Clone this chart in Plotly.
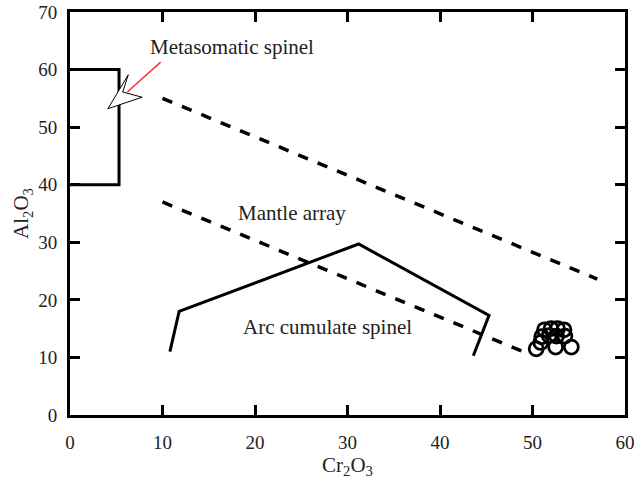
import plotly.graph_objects as go

# Metasomatic spinel field (box)
meta_box_x = [0, 5.3, 5.3, 0]
meta_box_y = [60, 60, 40, 40]

# Mantle array (two dashed bounding lines)
mantle_upper_x = [10, 57]
mantle_upper_y = [55, 23.6]
mantle_lower_x = [10, 49]
mantle_lower_y = [37, 11]

# Arc cumulate spinel field
arc_x = [10.8, 11.8, 31.2, 45.3, 43.6]
arc_y = [11.0, 18.0, 29.7, 17.3, 10.3]

# Sample spinels (open circles)
sample_x = [50.4, 52.5, 54.2, 51.3, 52.0, 52.7, 53.4, 51.0, 51.8, 52.6, 53.5, 50.9]
sample_y = [11.5, 11.8, 11.8, 14.8, 15.0, 15.0, 14.8, 13.6, 13.8, 13.7, 13.7, 12.6]

# Arrow pointer (red line) and hollow arrowhead
pointer_x = [9.8, 6.2]
pointer_y = [61.3, 56.1]
head_x = [4.1, 6.3, 5.7, 7.8, 4.1]
head_y = [53.2, 59.1, 56.1, 55.2, 53.2]

x_ticks = [0, 10, 20, 30, 40, 50, 60]
y_ticks = [0, 10, 20, 30, 40, 50, 60, 70]

labels = ["Metasomatic spinel", "Mantle array", "Arc cumulate spinel"]
label_x = [17.5, 24.0, 27.8]
label_y = [63.9, 35.1, 15.3]

FONT = "Liberation Serif, Times New Roman, serif"

fig = go.Figure()
fig.add_trace(go.Scatter(x=meta_box_x, y=meta_box_y, mode="lines",
                         line=dict(color="black", width=3), hoverinfo="skip"))
fig.add_trace(go.Scatter(x=mantle_upper_x, y=mantle_upper_y, mode="lines",
                         line=dict(color="black", width=3.5, dash="dash")))
fig.add_trace(go.Scatter(x=mantle_lower_x, y=mantle_lower_y, mode="lines",
                         line=dict(color="black", width=3.5, dash="dash")))
fig.add_trace(go.Scatter(x=arc_x, y=arc_y, mode="lines",
                         line=dict(color="black", width=3)))
fig.add_trace(go.Scatter(x=sample_x, y=sample_y, mode="markers",
                         marker=dict(symbol="circle-open", size=14,
                                     line=dict(color="black", width=2.8), color="black")))
fig.add_trace(go.Scatter(x=head_x, y=head_y, mode="lines", fill="toself",
                         fillcolor="white", line=dict(color="black", width=1)))
fig.add_trace(go.Scatter(x=pointer_x, y=pointer_y, mode="lines",
                         line=dict(color="#f23a3a", width=1.6)))

for t, x, y in zip(labels, label_x, label_y):
    fig.add_annotation(x=x, y=y, text=t, showarrow=False,
                       font=dict(family=FONT, size=21, color="#222"))

axis_common = dict(showgrid=False, zeroline=False, showline=True, linecolor="black",
                   linewidth=3, mirror="ticks", ticks="inside", ticklen=10,
                   tickwidth=3, tickcolor="black", automargin=False,
                   tickfont=dict(family=FONT, size=19, color="#222"))

fig.update_xaxes(range=[0, 60], tickvals=x_ticks, ticktext=[str(v) for v in x_ticks],
                 title=dict(text="Cr<sub>2</sub>O<sub>3</sub>",
                            font=dict(family=FONT, size=21, color="#222"), standoff=6),
                 ticklabelstandoff=8, **axis_common)
fig.update_yaxes(range=[0, 70], tickvals=y_ticks, ticktext=[str(v) for v in y_ticks],
                 title=dict(text="Al<sub>2</sub>O<sub>3</sub>",
                            font=dict(family=FONT, size=21, color="#222"), standoff=4),
                 ticklabelstandoff=6, **axis_common)

fig.update_layout(width=643, height=499, showlegend=False,
                  plot_bgcolor="white", paper_bgcolor="white",
                  margin=dict(l=70, r=18, t=12, b=84))

fig.write_html("out.html", config={"displayModeBar": False},
               post_script="document.body.style.margin='0px';document.body.style.overflow='hidden';")
